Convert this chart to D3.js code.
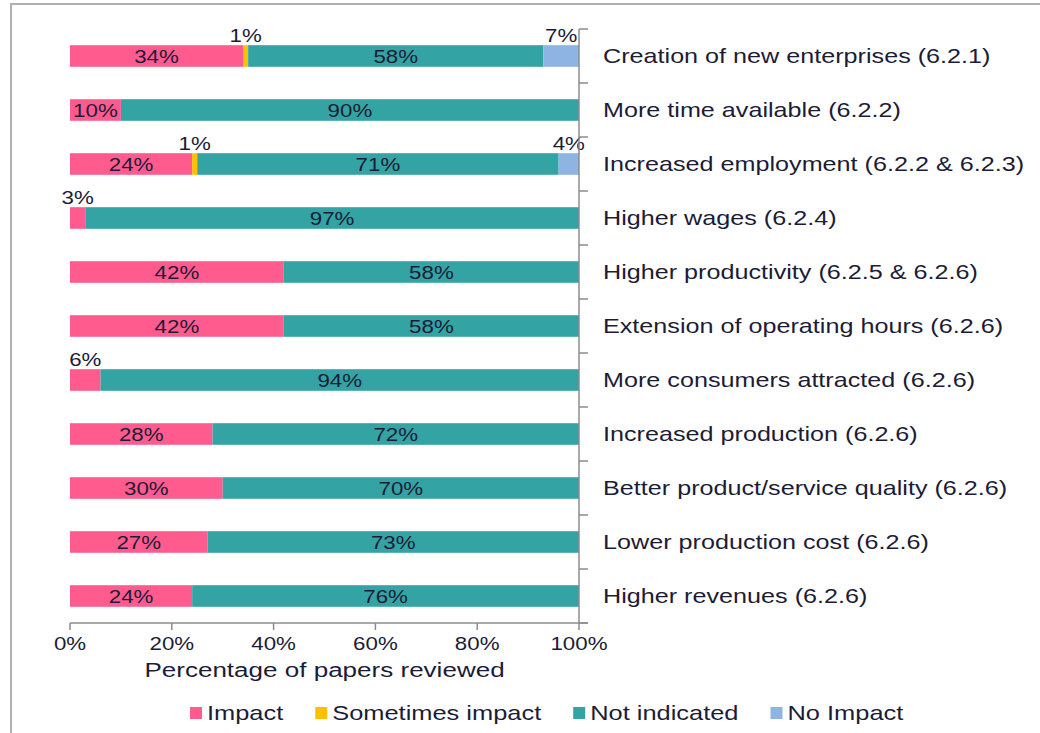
<!DOCTYPE html>
<html>
<head>
<meta charset="utf-8">
<script src="https://cdn.jsdelivr.net/npm/d3@7"></script>
<style>
  body { margin: 0; background: #fff; }
  text { font-family: "Liberation Sans", Arial, sans-serif; fill: #1c1c36; }
</style>
</head>
<body>
<div id="chart"></div>
<script>
const width = 1040, height = 733;

const categories = [
    "Creation of new enterprises (6.2.1)",
    "More time available (6.2.2)",
    "Increased employment (6.2.2 & 6.2.3)",
    "Higher wages (6.2.4)",
    "Higher productivity (6.2.5 & 6.2.6)",
    "Extension of operating hours (6.2.6)",
    "More consumers attracted (6.2.6)",
    "Increased production (6.2.6)",
    "Better product/service quality (6.2.6)",
    "Lower production cost (6.2.6)",
    "Higher revenues (6.2.6)"
];
const impact       = [34, 10, 24, 3, 42, 42, 6, 28, 30, 27, 24];
const sometimes    = [1, 0, 1, 0, 0, 0, 0, 0, 0, 0, 0];
const notIndicated = [58, 90, 71, 97, 58, 58, 94, 72, 70, 73, 76];
const noImpact     = [7, 0, 4, 0, 0, 0, 0, 0, 0, 0, 0];
const seriesNames  = ["Impact", "Sometimes impact", "Not indicated", "No Impact"];
const xTicks       = [0, 20, 40, 60, 80, 100];

const colors = ["#ff5b8e", "#ffc000", "#33a3a3", "#8eb4e3"];
const sx = 1.24; // the reference text is stretched horizontally

const rows = categories.map((c, i) => ({
    cat: c, Impact: impact[i], "Sometimes impact": sometimes[i],
    "Not indicated": notIndicated[i], "No Impact": noImpact[i]
}));
const stacked = d3.stack().keys(seriesNames)(rows);

const svg = d3.select("#chart").append("svg")
    .attr("width", width)
    .attr("height", height);

// outer frame
svg.append("path")
    .attr("d", `M11,${height} L11,4 L${width},4`)
    .attr("fill", "none")
    .attr("stroke", "#b0b0b0")
    .attr("stroke-width", 2);

const x = d3.scaleLinear().domain([0, 100]).range([70, 579]);
const y = d3.scaleBand().domain(categories).range([29, 623]).paddingInner(0.6).paddingOuter(0.3);
const step = y.step();

function stretchText(sel, tx, ty) {
    return sel.attr("transform", (d, i) => `translate(${tx(d, i)},${ty(d, i)}) scale(${sx},1)`);
}

// bars
const layer = svg.append("g").selectAll("g")
    .data(stacked)
    .enter().append("g")
    .attr("fill", (d, i) => colors[i]);

layer.selectAll("rect")
    .data(d => d.filter(s => s[1] - s[0] > 0).map(s => ({ s, cat: s.data.cat })))
    .enter().append("rect")
    .attr("x", d => x(d.s[0]))
    .attr("y", d => y(d.cat))
    .attr("width", d => x(d.s[1]) - x(d.s[0]))
    .attr("height", y.bandwidth());

// value labels
const labels = [];
stacked.forEach(layerData => layerData.forEach(s => {
    const v = s[1] - s[0];
    if (v > 0) labels.push({ v, mid: (s[0] + s[1]) / 2, cat: s.data.cat });
}));

stretchText(svg.append("g").selectAll("text")
    .data(labels)
    .enter().append("text")
    .attr("text-anchor", "middle")
    .style("font-size", "18px")
    .text(d => d.v + "%"),
    d => x(d.mid),
    d => d.v <= 7 ? y(d.cat) - 3 : y(d.cat) + y.bandwidth() / 2 + 6.5);

// right axis
const axisColor = "#8c8c8c";
svg.append("line")
    .attr("x1", x(100)).attr("x2", x(100))
    .attr("y1", 29).attr("y2", 623)
    .attr("stroke", axisColor).attr("stroke-width", 1.5);

svg.append("g").selectAll("line")
    .data(d3.range(categories.length + 1))
    .enter().append("line")
    .attr("x1", x(100)).attr("x2", x(100) + 9)
    .attr("y1", i => 29 + i * step).attr("y2", i => 29 + i * step)
    .attr("stroke", axisColor).attr("stroke-width", 1.5);

// bottom axis
svg.append("line")
    .attr("x1", x(0)).attr("x2", x(100) + 9)
    .attr("y1", 623).attr("y2", 623)
    .attr("stroke", axisColor).attr("stroke-width", 1.5);

svg.append("g").selectAll("line")
    .data(xTicks)
    .enter().append("line")
    .attr("x1", d => x(d)).attr("x2", d => x(d))
    .attr("y1", 623).attr("y2", 630)
    .attr("stroke", axisColor).attr("stroke-width", 1.5);

stretchText(svg.append("g").selectAll("text")
    .data(xTicks)
    .enter().append("text")
    .attr("text-anchor", "middle")
    .style("font-size", "18px")
    .text(d => d + "%"),
    d => x(d), () => 650);

stretchText(svg.append("text").datum(0)
    .attr("text-anchor", "middle")
    .style("font-size", "21px")
    .text("Percentage of papers reviewed"),
    () => (x(0) + x(100)) / 2, () => 677);

// category labels
stretchText(svg.append("g").selectAll("text")
    .data(categories)
    .enter().append("text")
    .style("font-size", "20.3px")
    .text(d => d),
    () => 603, d => y(d) + y.bandwidth() / 2 + 7);

// legend
const legend = svg.append("g");
let lx = 190;
seriesNames.forEach((name, i) => {
    legend.append("rect")
        .attr("x", lx).attr("y", 707)
        .attr("width", 12).attr("height", 12)
        .attr("fill", colors[i]);
    const t = legend.append("text")
        .attr("transform", `translate(${lx + 17},720) scale(${sx},1)`)
        .style("font-size", "20.5px")
        .text(name);
    lx += 17 + t.node().getComputedTextLength() * sx + 32;
});
</script>
</body>
</html>
